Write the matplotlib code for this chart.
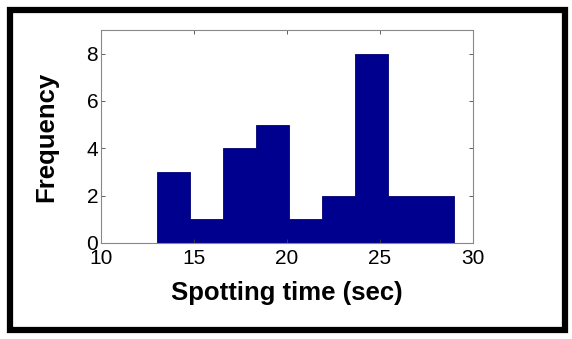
import matplotlib
matplotlib.use("Agg")
import matplotlib.pyplot as plt
from matplotlib.patches import Rectangle
import numpy as np

# Histogram data: 9 bins from 13 to 29
bin_edges = [13 + i * 16 / 9 for i in range(10)]
counts = [3, 1, 4, 5, 1, 2, 8, 2, 2]
x_ticks = [10, 15, 20, 25, 30]
y_ticks = [0, 2, 4, 6, 8]

plt.rcParams['font.family'] = ['Liberation Sans', 'DejaVu Sans']

fig = plt.figure(figsize=(5.72, 3.39), dpi=100)
ax = fig.add_axes([101 / 572, 1 - 243 / 339, 372 / 572, 213 / 339])

ax.stairs(counts, bin_edges, fill=True, color='#00008F', edgecolor='#000070', linewidth=0.6)

ax.set_xlim(10, 30)
ax.set_ylim(0, 9)
ax.set_xticks(x_ticks)
ax.set_yticks(y_ticks)
ax.tick_params(direction='in', top=True, right=True, length=3, width=0.6,
               labelsize=15, color='#444444')
ax.tick_params(axis='x', pad=4)
ax.tick_params(axis='y', pad=2)
for s in ax.spines.values():
    s.set_color('#888888')
    s.set_linewidth(0.8)

ax.set_xlabel('Spotting time (sec)', fontsize=18.5, fontweight='bold', labelpad=10)
ax.set_ylabel('Frequency', fontsize=18.5, fontweight='bold', labelpad=20)

fig.patches.append(Rectangle((9.5 / 572, 1 - 330 / 339), 555 / 572, 320.5 / 339,
                             transform=fig.transFigure, fill=False,
                             edgecolor='black', linewidth=4.5, zorder=10))

fig.savefig('out.png', dpi=100)
